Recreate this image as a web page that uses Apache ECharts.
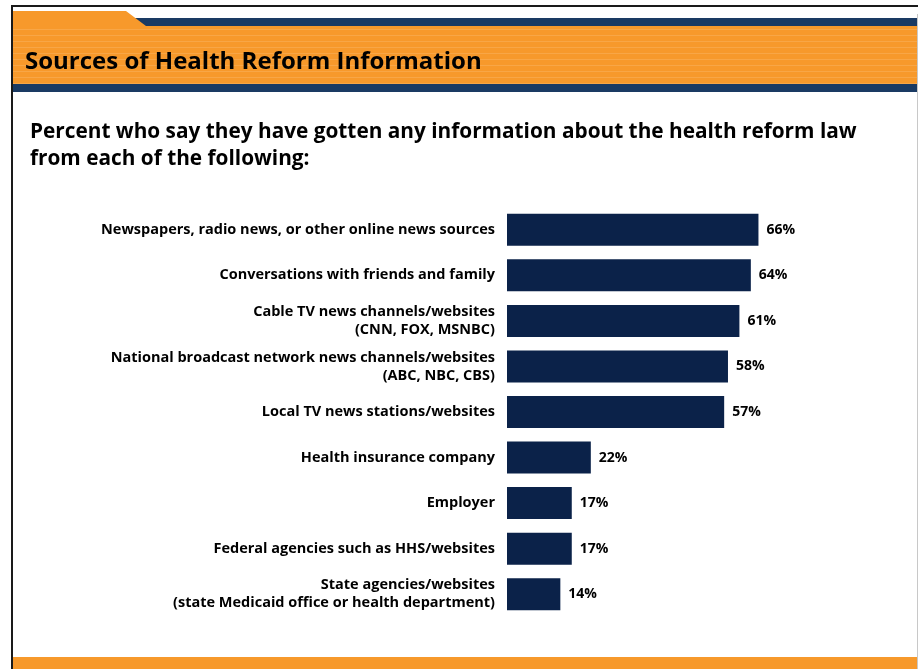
<!DOCTYPE html>
<html>
<head>
<meta charset="utf-8">
<style>
  html, body { margin: 0; padding: 0; background: #ffffff; }
  #chart { width: 919px; height: 669px; }
</style>
<script src="https://cdn.jsdelivr.net/npm/echarts@6/dist/echarts.min.js"></script>
</head>
<body>
<div id="chart"></div>
<script>
// Sources people report for information about the health reform law
const categories = [
  'Newspapers, radio news, or other online news sources',
  'Conversations with friends and family',
  'Cable TV news channels/websites\n(CNN, FOX, MSNBC)',
  'National broadcast network news channels/websites\n(ABC, NBC, CBS)',
  'Local TV news stations/websites',
  'Health insurance company',
  'Employer',
  'Federal agencies such as HHS/websites',
  'State agencies/websites\n(state Medicaid office or health department)'
];
const percents = [66, 64, 61, 58, 57, 22, 17, 17, 14];

const headerTitle = 'Sources of Health Reform Information';
const subtitleLines = [
  'Percent who say they have gotten any information about the health reform law',
  'from each of the following:'
];

const ORANGE = '#F7992B';
const HEADER_NAVY = '#1A3A63';
const BAR_NAVY = '#0B2249';
const FONT = '"Open Sans", "Noto Sans", sans-serif';

// Slide header decoration: orange band with faint horizontal stripes
const stripes = [];
for (let y = 29; y < 84; y += 6) {
  stripes.push({
    type: 'rect',
    shape: { x: 12, y: y, width: 906, height: 1 },
    style: { fill: 'rgba(255,255,255,0.13)' },
    silent: true,
    z: 2
  });
}

const chart = echarts.init(document.getElementById('chart'), null, { renderer: 'canvas' });

chart.setOption({
  animation: false,
  backgroundColor: '#ffffff',
  graphic: [
    // slide frame
    { type: 'rect', shape: { x: 11, y: 5, width: 907, height: 2 }, style: { fill: '#1a1a1a' }, z: 3 },
    { type: 'rect', shape: { x: 11, y: 5, width: 2, height: 664 }, style: { fill: '#1a1a1a' }, z: 3 },
    { type: 'rect', shape: { x: 917, y: 14, width: 1, height: 655 }, style: { fill: '#c8c8c8' }, z: 3 },
    // navy strip at top right
    { type: 'rect', shape: { x: 120, y: 18, width: 798, height: 8 }, style: { fill: HEADER_NAVY }, z: 1 },
    // orange tab with slanted edge
    {
      type: 'polygon',
      shape: { points: [[13, 11], [126, 11], [146, 26], [918, 26], [918, 84], [13, 84]] },
      style: { fill: ORANGE },
      z: 1
    },
    ...stripes,
    // navy strip under the header
    { type: 'rect', shape: { x: 13, y: 84, width: 905, height: 8 }, style: { fill: HEADER_NAVY }, z: 2 },
    // header title
    {
      type: 'text',
      left: 25, top: 50,
      style: { text: headerTitle, fill: '#000000', font: 'bold 24px ' + FONT },
      z: 4
    },
    // subtitle
    {
      type: 'text',
      left: 30, top: 119,
      style: {
        text: subtitleLines.join('\n'),
        fill: '#000000',
        font: 'bold 20.8px ' + FONT,
        lineHeight: 27
      },
      z: 4
    },
    // orange footer band
    { type: 'rect', shape: { x: 13, y: 657, width: 905, height: 12 }, style: { fill: ORANGE }, z: 2 }
  ],
  grid: {
    left: 507,
    right: 31,
    top: 207,
    bottom: 52,
    containLabel: false
  },
  xAxis: {
    type: 'value',
    min: 0,
    max: 100,
    show: false
  },
  yAxis: {
    type: 'category',
    data: categories,
    inverse: true,
    axisLine: { show: false },
    axisTick: { show: false },
    splitLine: { show: false },
    axisLabel: {
      margin: 12,
      color: '#000000',
      fontFamily: FONT,
      fontWeight: 'bold',
      fontSize: 14.5,
      lineHeight: 18,
      align: 'right'
    }
  },
  series: [{
    type: 'bar',
    data: percents,
    barWidth: 32,
    itemStyle: { color: BAR_NAVY },
    label: {
      show: true,
      position: 'right',
      distance: 8,
      formatter: p => p.value + '%',
      color: '#000000',
      fontFamily: FONT,
      fontWeight: 'bold',
      fontSize: 14
    }
  }]
});
</script>
</body>
</html>
